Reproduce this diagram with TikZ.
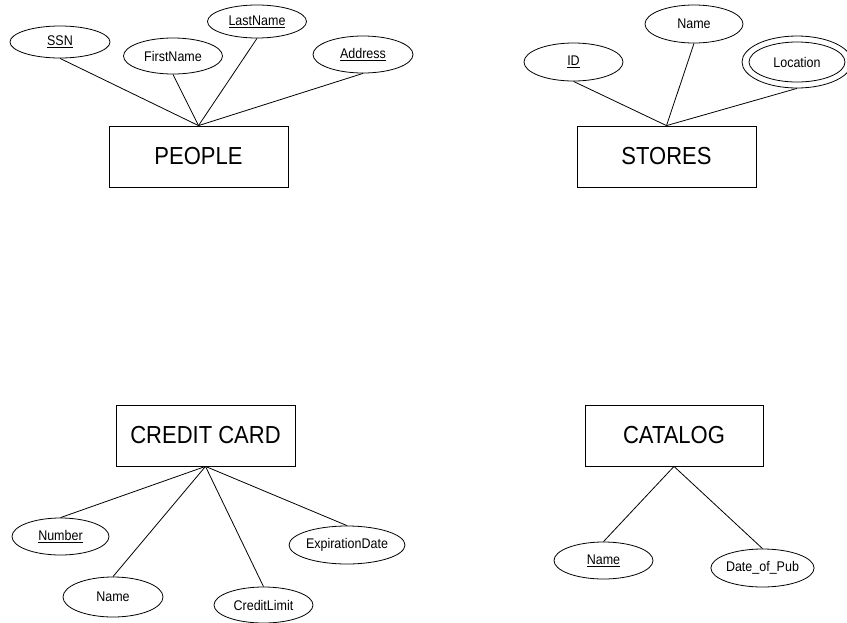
\documentclass[tikz,border=0pt]{standalone}
\usepackage{graphicx}
\usepackage{fontspec}
\setmainfont{Liberation Sans}
\usetikzlibrary{shapes.geometric}

% slightly tall lettering used throughout the schema
\newcommand{\tallbox}[1]{\scalebox{1}[1.12]{#1}}
\newcommand{\keyattr}[1]{\underline{#1}}

\tikzset{
  entity/.style={draw, rectangle, line width=0.8pt, minimum width=179pt,
    minimum height=61pt, inner sep=0pt,
    font=\fontsize{22}{26}\selectfont},
  attr/.style={draw, ellipse, line width=0.8pt, inner sep=0pt,
    minimum width=99pt, minimum height=36pt,
    font=\fontsize{12.5}{15}\selectfont},
  link/.style={line width=0.8pt}
}

\begin{document}
\begin{tikzpicture}[x=1pt, y=-1pt]
\useasboundingbox (0,0) rectangle (847,622);

% ---------- PEOPLE ----------
\node[entity] (people) at (198.5,156.5) {\tallbox{PEOPLE}};
\node[attr, minimum width=100pt, minimum height=32pt] (ssn) at (60,42) {\tallbox{\keyattr{SSN}}};
\node[attr] (first) at (173,56) {\tallbox{FirstName}};
\node[attr, minimum height=33pt] (last) at (257,21.5) {\tallbox{\keyattr{LastName}}};
\node[attr, minimum width=100pt, minimum height=37pt] (addr) at (363,54.5) {\tallbox{\keyattr{Address}}};
\draw[link] (ssn.south) -- (people.north);
\draw[link] (first.south) -- (people.north);
\draw[link] (last.south) -- (people.north);
\draw[link] (addr.south) -- (people.north);

% ---------- STORES ----------
\node[entity] (stores) at (666.5,156.5) {\tallbox{STORES}};
\node[attr, minimum height=38pt] (sid) at (573.5,62) {\tallbox{\keyattr{ID}}};
\node[attr, minimum width=98pt, minimum height=38pt] (sname) at (694,24) {\tallbox{Name}};
\node[attr, minimum width=110pt, minimum height=52pt] (loc) at (797,62) {};
\node[attr, minimum width=96pt, minimum height=40pt] (locin) at (797,62) {\tallbox{Location}};
\draw[link] (sid.south) -- (stores.north);
\draw[link] (sname.south) -- (stores.north);
\draw[link] (loc.south) -- (stores.north);

% ---------- CREDIT CARD ----------
\node[entity] (card) at (205.5,435.5) {\tallbox{CREDIT CARD}};
\node[attr, minimum width=97pt, minimum height=37pt] (num) at (60.5,536.5) {\tallbox{\keyattr{Number}}};
\node[attr, minimum width=100pt, minimum height=40pt] (cname) at (113,597) {\tallbox{Name}};
\node[attr, minimum height=36pt] (limit) at (263.5,605) {\tallbox{CreditLimit}};
\node[attr, minimum width=100pt, minimum height=38pt] (expiry) at (347,545) {\tallbox{ExpirationDate}};
\draw[link] (card.south) -- (num.north);
\draw[link] (card.south) -- (cname.north);
\draw[link] (card.south) -- (limit.north);
\draw[link] (card.south) -- (expiry.north);

% ---------- CATALOG ----------
\node[entity, minimum width=178pt] (catalog) at (674,435.5) {\tallbox{CATALOG}};
\node[attr, minimum height=37pt] (catname) at (603.5,560.5) {\tallbox{\keyattr{Name}}};
\node[attr, minimum height=38pt] (pubdate) at (762.5,568) {\tallbox{Date\_of\_Pub}};
\draw[link] (catalog.south) -- (catname.north);
\draw[link] (catalog.south) -- (pubdate.north);
\end{tikzpicture}
\end{document}
